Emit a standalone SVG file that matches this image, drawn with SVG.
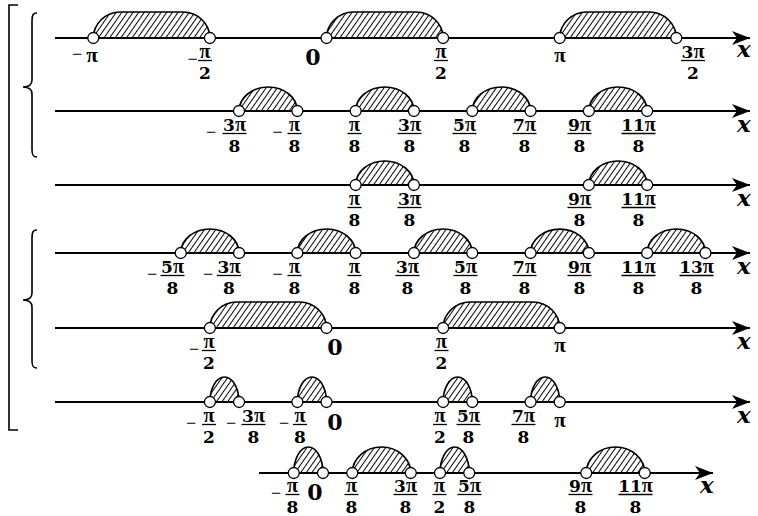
<svg xmlns="http://www.w3.org/2000/svg" width="758" height="516" viewBox="0 0 758 516">
<style>
.axis{stroke:#000;stroke-width:2;fill:none;marker-end:url(#arr)}
.arch{fill:url(#hatch);stroke:#000;stroke-width:1.7}
.pt{fill:#fff;stroke:#000;stroke-width:1.3}
.t{font-family:"DejaVu Serif",serif;font-weight:bold;font-size:17px;text-anchor:middle;fill:#000}
.p{font-family:"Liberation Serif",serif;font-weight:bold;font-size:20px}
.s{font-family:"Liberation Serif",serif;font-weight:bold;font-size:21px;text-anchor:middle;fill:#000}
.z{font-family:"DejaVu Serif",serif;font-weight:bold;font-size:22px;text-anchor:middle;fill:#000}
.m{font-family:"Liberation Serif",serif;font-size:18px;text-anchor:middle;fill:#000}
.x{font-family:"DejaVu Serif",serif;font-style:italic;font-weight:bold;font-size:23px;fill:#000}
.bar{stroke:#000;stroke-width:1.3}
.br{fill:none;stroke:#000;stroke-width:1.6}
</style>
<defs>
<pattern id="hatch" patternUnits="userSpaceOnUse" width="4.6" height="10" patternTransform="rotate(35)">
<line x1="2.3" y1="0" x2="2.3" y2="10" stroke="#000" stroke-width="1"/>
</pattern>
<marker id="arr" markerUnits="userSpaceOnUse" markerWidth="20" markerHeight="16" refX="18" refY="7" orient="auto">
<path d="M18 7 L0 0 L5 7 L0 14 Z" fill="#000"/>
</marker>
</defs>

<g id="brackets">
<path class="br" d="M18 5 L9 5 L9 430 L18 430" stroke-width="2"/>
<path class="br" d="M37 13 C33 13 32 15 32 21 L32 80 C32 85 28 87 23 87 C28 87 32 89 32 94 L32 150 C32 155 33 157 37 157"/>
<path class="br" d="M37 230 C33 230 32 232 32 238 L32 293 C32 298 28 300 23 300 C28 300 32 302 32 307 L32 361 C32 366 33 368 37 368"/>
</g>

<g id="row1" transform="translate(0,38)">
<line class="axis" x1="55" y1="0" x2="750" y2="0"/>
<path class="arch" d="M93.3 0 C93.3 -14 105.3 -26 120.3 -26 L182.9 -26 C197.9 -26 209.9 -14 209.9 0 Z"/>
<path class="arch" d="M326.5 0 C326.5 -14 338.5 -26 353.5 -26 L416.1 -26 C431.1 -26 443.1 -14 443.1 0 Z"/>
<path class="arch" d="M559.7 0 C559.7 -14 571.7 -26 586.7 -26 L649.3 -26 C664.3 -26 676.3 -14 676.3 0 Z"/>
<circle class="pt" cx="93.3" cy="0" r="5.5"/><circle class="pt" cx="209.9" cy="0" r="5.5"/>
<circle class="pt" cx="326.5" cy="0" r="5.5"/><circle class="pt" cx="443.1" cy="0" r="5.5"/>
<circle class="pt" cx="559.7" cy="0" r="5.5"/><circle class="pt" cx="676.3" cy="0" r="5.5"/>
<text class="m" x="77" y="22">−</text><text class="s" x="92" y="24">π</text>
<text class="m" x="192.5" y="27">−</text><text class="t" x="205" y="20"><tspan class="p">π</tspan></text><line class="bar" x1="198" y1="22.5" x2="212" y2="22.5"/><text class="t" x="205" y="41">2</text>
<text class="z" x="313" y="27">0</text>
<text class="t" x="441" y="20"><tspan class="p">π</tspan></text><line class="bar" x1="434" y1="22.5" x2="448" y2="22.5"/><text class="t" x="441" y="41">2</text>
<text class="s" x="560" y="24">π</text>
<text class="t" x="693" y="20">3<tspan class="p">π</tspan></text><line class="bar" x1="681" y1="22.5" x2="705" y2="22.5"/><text class="t" x="693" y="41">2</text>
<text class="x" x="737" y="19">x</text>
</g>

<g id="row2" transform="translate(0,111)">
<line class="axis" x1="55" y1="0" x2="750" y2="0"/>
<path class="arch" d="M239.05 0 A29.15 24 0 0 1 297.35 0 Z"/>
<path class="arch" d="M355.65 0 A29.15 24 0 0 1 413.95 0 Z"/>
<path class="arch" d="M472.25 0 A29.15 24 0 0 1 530.55 0 Z"/>
<path class="arch" d="M588.85 0 A29.15 24 0 0 1 647.15 0 Z"/>
<circle class="pt" cx="239.05" cy="0" r="5.5"/><circle class="pt" cx="297.35" cy="0" r="5.5"/>
<circle class="pt" cx="355.65" cy="0" r="5.5"/><circle class="pt" cx="413.95" cy="0" r="5.5"/>
<circle class="pt" cx="472.25" cy="0" r="5.5"/><circle class="pt" cx="530.55" cy="0" r="5.5"/>
<circle class="pt" cx="588.85" cy="0" r="5.5"/><circle class="pt" cx="647.15" cy="0" r="5.5"/>
<text class="m" x="211" y="27">−</text><text class="t" x="234.5" y="20">3<tspan class="p">π</tspan></text><line class="bar" x1="222.5" y1="22.5" x2="246.5" y2="22.5"/><text class="t" x="234.5" y="41">8</text>
<text class="m" x="277.5" y="27">−</text><text class="t" x="294.5" y="20"><tspan class="p">π</tspan></text><line class="bar" x1="287.5" y1="22.5" x2="301.5" y2="22.5"/><text class="t" x="294.5" y="41">8</text>
<text class="t" x="354.5" y="20"><tspan class="p">π</tspan></text><line class="bar" x1="347.5" y1="22.5" x2="361.5" y2="22.5"/><text class="t" x="354.5" y="41">8</text>
<text class="t" x="409.5" y="20">3<tspan class="p">π</tspan></text><line class="bar" x1="397.5" y1="22.5" x2="421.5" y2="22.5"/><text class="t" x="409.5" y="41">8</text>
<text class="t" x="464.5" y="20">5<tspan class="p">π</tspan></text><line class="bar" x1="452.5" y1="22.5" x2="476.5" y2="22.5"/><text class="t" x="464.5" y="41">8</text>
<text class="t" x="524.5" y="20">7<tspan class="p">π</tspan></text><line class="bar" x1="512.5" y1="22.5" x2="536.5" y2="22.5"/><text class="t" x="524.5" y="41">8</text>
<text class="t" x="579.5" y="20">9<tspan class="p">π</tspan></text><line class="bar" x1="567.5" y1="22.5" x2="591.5" y2="22.5"/><text class="t" x="579.5" y="41">8</text>
<text class="t" x="638.5" y="20">11<tspan class="p">π</tspan></text><line class="bar" x1="621.5" y1="22.5" x2="655.5" y2="22.5"/><text class="t" x="638.5" y="41">8</text>
<text class="x" x="737" y="21">x</text>
</g>

<g id="row3" transform="translate(0,185)">
<line class="axis" x1="55" y1="0" x2="750" y2="0"/>
<path class="arch" d="M355.65 0 A29.15 24 0 0 1 413.95 0 Z"/>
<path class="arch" d="M588.85 0 A29.15 24 0 0 1 647.15 0 Z"/>
<circle class="pt" cx="355.65" cy="0" r="5.5"/><circle class="pt" cx="413.95" cy="0" r="5.5"/>
<circle class="pt" cx="588.85" cy="0" r="5.5"/><circle class="pt" cx="647.15" cy="0" r="5.5"/>
<text class="t" x="354.5" y="20"><tspan class="p">π</tspan></text><line class="bar" x1="347.5" y1="22.5" x2="361.5" y2="22.5"/><text class="t" x="354.5" y="41">8</text>
<text class="t" x="409.5" y="20">3<tspan class="p">π</tspan></text><line class="bar" x1="397.5" y1="22.5" x2="421.5" y2="22.5"/><text class="t" x="409.5" y="41">8</text>
<text class="t" x="579.5" y="20">9<tspan class="p">π</tspan></text><line class="bar" x1="567.5" y1="22.5" x2="591.5" y2="22.5"/><text class="t" x="579.5" y="41">8</text>
<text class="t" x="638.5" y="20">11<tspan class="p">π</tspan></text><line class="bar" x1="621.5" y1="22.5" x2="655.5" y2="22.5"/><text class="t" x="638.5" y="41">8</text>
<text class="x" x="737" y="21">x</text>
</g>

<g id="row4" transform="translate(0,253)">
<line class="axis" x1="55" y1="0" x2="750" y2="0"/>
<path class="arch" d="M180.75 0 A29.15 24 0 0 1 239.05 0 Z"/>
<path class="arch" d="M297.35 0 A29.15 24 0 0 1 355.65 0 Z"/>
<path class="arch" d="M413.95 0 A29.15 24 0 0 1 472.25 0 Z"/>
<path class="arch" d="M530.55 0 A29.15 24 0 0 1 588.85 0 Z"/>
<path class="arch" d="M647.15 0 A29.15 24 0 0 1 705.45 0 Z"/>
<circle class="pt" cx="180.75" cy="0" r="5.5"/><circle class="pt" cx="239.05" cy="0" r="5.5"/>
<circle class="pt" cx="297.35" cy="0" r="5.5"/><circle class="pt" cx="355.65" cy="0" r="5.5"/>
<circle class="pt" cx="413.95" cy="0" r="5.5"/><circle class="pt" cx="472.25" cy="0" r="5.5"/>
<circle class="pt" cx="530.55" cy="0" r="5.5"/><circle class="pt" cx="588.85" cy="0" r="5.5"/>
<circle class="pt" cx="647.15" cy="0" r="5.5"/><circle class="pt" cx="705.45" cy="0" r="5.5"/>
<text class="m" x="152" y="27">−</text><text class="t" x="172.5" y="20">5<tspan class="p">π</tspan></text><line class="bar" x1="160.5" y1="22.5" x2="184.5" y2="22.5"/><text class="t" x="172.5" y="41">8</text>
<text class="m" x="208" y="27">−</text><text class="t" x="229" y="20">3<tspan class="p">π</tspan></text><line class="bar" x1="217" y1="22.5" x2="241" y2="22.5"/><text class="t" x="229" y="41">8</text>
<text class="m" x="277.5" y="27">−</text><text class="t" x="294.5" y="20"><tspan class="p">π</tspan></text><line class="bar" x1="287.5" y1="22.5" x2="301.5" y2="22.5"/><text class="t" x="294.5" y="41">8</text>
<text class="t" x="354.5" y="20"><tspan class="p">π</tspan></text><line class="bar" x1="347.5" y1="22.5" x2="361.5" y2="22.5"/><text class="t" x="354.5" y="41">8</text>
<text class="t" x="407.5" y="20">3<tspan class="p">π</tspan></text><line class="bar" x1="395.5" y1="22.5" x2="419.5" y2="22.5"/><text class="t" x="407.5" y="41">8</text>
<text class="t" x="465.5" y="20">5<tspan class="p">π</tspan></text><line class="bar" x1="453.5" y1="22.5" x2="477.5" y2="22.5"/><text class="t" x="465.5" y="41">8</text>
<text class="t" x="524.5" y="20">7<tspan class="p">π</tspan></text><line class="bar" x1="512.5" y1="22.5" x2="536.5" y2="22.5"/><text class="t" x="524.5" y="41">8</text>
<text class="t" x="579.5" y="20">9<tspan class="p">π</tspan></text><line class="bar" x1="567.5" y1="22.5" x2="591.5" y2="22.5"/><text class="t" x="579.5" y="41">8</text>
<text class="t" x="638.5" y="20">11<tspan class="p">π</tspan></text><line class="bar" x1="621.5" y1="22.5" x2="655.5" y2="22.5"/><text class="t" x="638.5" y="41">8</text>
<text class="t" x="696.5" y="20">13<tspan class="p">π</tspan></text><line class="bar" x1="679.5" y1="22.5" x2="713.5" y2="22.5"/><text class="t" x="696.5" y="41">8</text>
<text class="x" x="737" y="21">x</text>
</g>

<g id="row5" transform="translate(0,328)">
<line class="axis" x1="55" y1="0" x2="750" y2="0"/>
<path class="arch" d="M209.9 0 C209.9 -14 221.9 -26 236.9 -26 L299.5 -26 C314.5 -26 326.5 -14 326.5 0 Z"/>
<path class="arch" d="M443.1 0 C443.1 -14 455.1 -26 470.1 -26 L532.7 -26 C547.7 -26 559.7 -14 559.7 0 Z"/>
<circle class="pt" cx="209.9" cy="0" r="5.5"/><circle class="pt" cx="326.5" cy="0" r="5.5"/>
<circle class="pt" cx="443.1" cy="0" r="5.5"/><circle class="pt" cx="559.7" cy="0" r="5.5"/>
<text class="m" x="194" y="27">−</text><text class="t" x="209" y="20"><tspan class="p">π</tspan></text><line class="bar" x1="202" y1="22.5" x2="216" y2="22.5"/><text class="t" x="209" y="41">2</text>
<text class="z" x="335" y="27">0</text>
<text class="t" x="441.5" y="20"><tspan class="p">π</tspan></text><line class="bar" x1="434.5" y1="22.5" x2="448.5" y2="22.5"/><text class="t" x="441.5" y="41">2</text>
<text class="s" x="560" y="24">π</text>
<text class="x" x="737" y="21">x</text>
</g>

<g id="row6" transform="translate(0,402)">
<line class="axis" x1="55" y1="0" x2="750" y2="0"/>
<path class="arch" d="M209.9 0 A14.575 25 0 0 1 239.05 0 Z"/>
<path class="arch" d="M297.35 0 A14.575 25 0 0 1 326.5 0 Z"/>
<path class="arch" d="M443.1 0 A14.575 25 0 0 1 472.25 0 Z"/>
<path class="arch" d="M530.55 0 A14.575 25 0 0 1 559.7 0 Z"/>
<circle class="pt" cx="209.9" cy="0" r="5.5"/><circle class="pt" cx="239.05" cy="0" r="5.5"/>
<circle class="pt" cx="297.35" cy="0" r="5.5"/><circle class="pt" cx="326.5" cy="0" r="5.5"/>
<circle class="pt" cx="443.1" cy="0" r="5.5"/><circle class="pt" cx="472.25" cy="0" r="5.5"/>
<circle class="pt" cx="530.55" cy="0" r="5.5"/><circle class="pt" cx="559.7" cy="0" r="5.5"/>
<text class="m" x="191" y="27">−</text><text class="t" x="209" y="20"><tspan class="p">π</tspan></text><line class="bar" x1="202" y1="22.5" x2="216" y2="22.5"/><text class="t" x="209" y="41">2</text>
<text class="m" x="231" y="27">−</text><text class="t" x="253.5" y="20">3<tspan class="p">π</tspan></text><line class="bar" x1="241.5" y1="22.5" x2="265.5" y2="22.5"/><text class="t" x="253.5" y="41">8</text>
<text class="m" x="284" y="27">−</text><text class="t" x="300" y="20"><tspan class="p">π</tspan></text><line class="bar" x1="293" y1="22.5" x2="307" y2="22.5"/><text class="t" x="300" y="41">8</text>
<text class="z" x="335" y="28">0</text>
<text class="t" x="440" y="20"><tspan class="p">π</tspan></text><line class="bar" x1="433" y1="22.5" x2="447" y2="22.5"/><text class="t" x="440" y="41">2</text>
<text class="t" x="468.5" y="20">5<tspan class="p">π</tspan></text><line class="bar" x1="456.5" y1="22.5" x2="480.5" y2="22.5"/><text class="t" x="468.5" y="41">8</text>
<text class="t" x="523.5" y="20">7<tspan class="p">π</tspan></text><line class="bar" x1="511.5" y1="22.5" x2="535.5" y2="22.5"/><text class="t" x="523.5" y="41">8</text>
<text class="s" x="560" y="25">π</text>
<text class="x" x="737" y="21">x</text>
</g>

<g id="row7" transform="translate(0,473)">
<line class="axis" x1="259" y1="0" x2="713" y2="0"/>
<path class="arch" d="M293.75 0 A14.625 26 0 0 1 323 0 Z"/>
<path class="arch" d="M352.25 0 A29.25 26 0 0 1 410.75 0 Z"/>
<path class="arch" d="M440 0 A14.625 26 0 0 1 469.25 0 Z"/>
<path class="arch" d="M586.25 0 A29.25 26 0 0 1 644.75 0 Z"/>
<circle class="pt" cx="293.75" cy="0" r="5.5"/><circle class="pt" cx="323" cy="0" r="5.5"/>
<circle class="pt" cx="352.25" cy="0" r="5.5"/><circle class="pt" cx="410.75" cy="0" r="5.5"/>
<circle class="pt" cx="440" cy="0" r="5.5"/><circle class="pt" cx="469.25" cy="0" r="5.5"/>
<circle class="pt" cx="586.25" cy="0" r="5.5"/><circle class="pt" cx="644.75" cy="0" r="5.5"/>
<text class="m" x="276" y="26">−</text><text class="t" x="292.5" y="19"><tspan class="p">π</tspan></text><line class="bar" x1="285.5" y1="21.5" x2="299.5" y2="21.5"/><text class="t" x="292.5" y="39.5">8</text>
<text class="z" x="315" y="27">0</text>
<text class="t" x="351.5" y="19"><tspan class="p">π</tspan></text><line class="bar" x1="344.5" y1="21.5" x2="358.5" y2="21.5"/><text class="t" x="351.5" y="39.5">8</text>
<text class="t" x="405.5" y="19">3<tspan class="p">π</tspan></text><line class="bar" x1="393.5" y1="21.5" x2="417.5" y2="21.5"/><text class="t" x="405.5" y="39.5">8</text>
<text class="t" x="439.5" y="19"><tspan class="p">π</tspan></text><line class="bar" x1="432.5" y1="21.5" x2="446.5" y2="21.5"/><text class="t" x="439.5" y="39.5">2</text>
<text class="t" x="469.5" y="19">5<tspan class="p">π</tspan></text><line class="bar" x1="457.5" y1="21.5" x2="481.5" y2="21.5"/><text class="t" x="469.5" y="39.5">8</text>
<text class="t" x="580.5" y="19">9<tspan class="p">π</tspan></text><line class="bar" x1="568.5" y1="21.5" x2="592.5" y2="21.5"/><text class="t" x="580.5" y="39.5">8</text>
<text class="t" x="635.5" y="19">11<tspan class="p">π</tspan></text><line class="bar" x1="618.5" y1="21.5" x2="652.5" y2="21.5"/><text class="t" x="635.5" y="39.5">8</text>
<text class="x" x="700" y="20">x</text>
</g>
</svg>
